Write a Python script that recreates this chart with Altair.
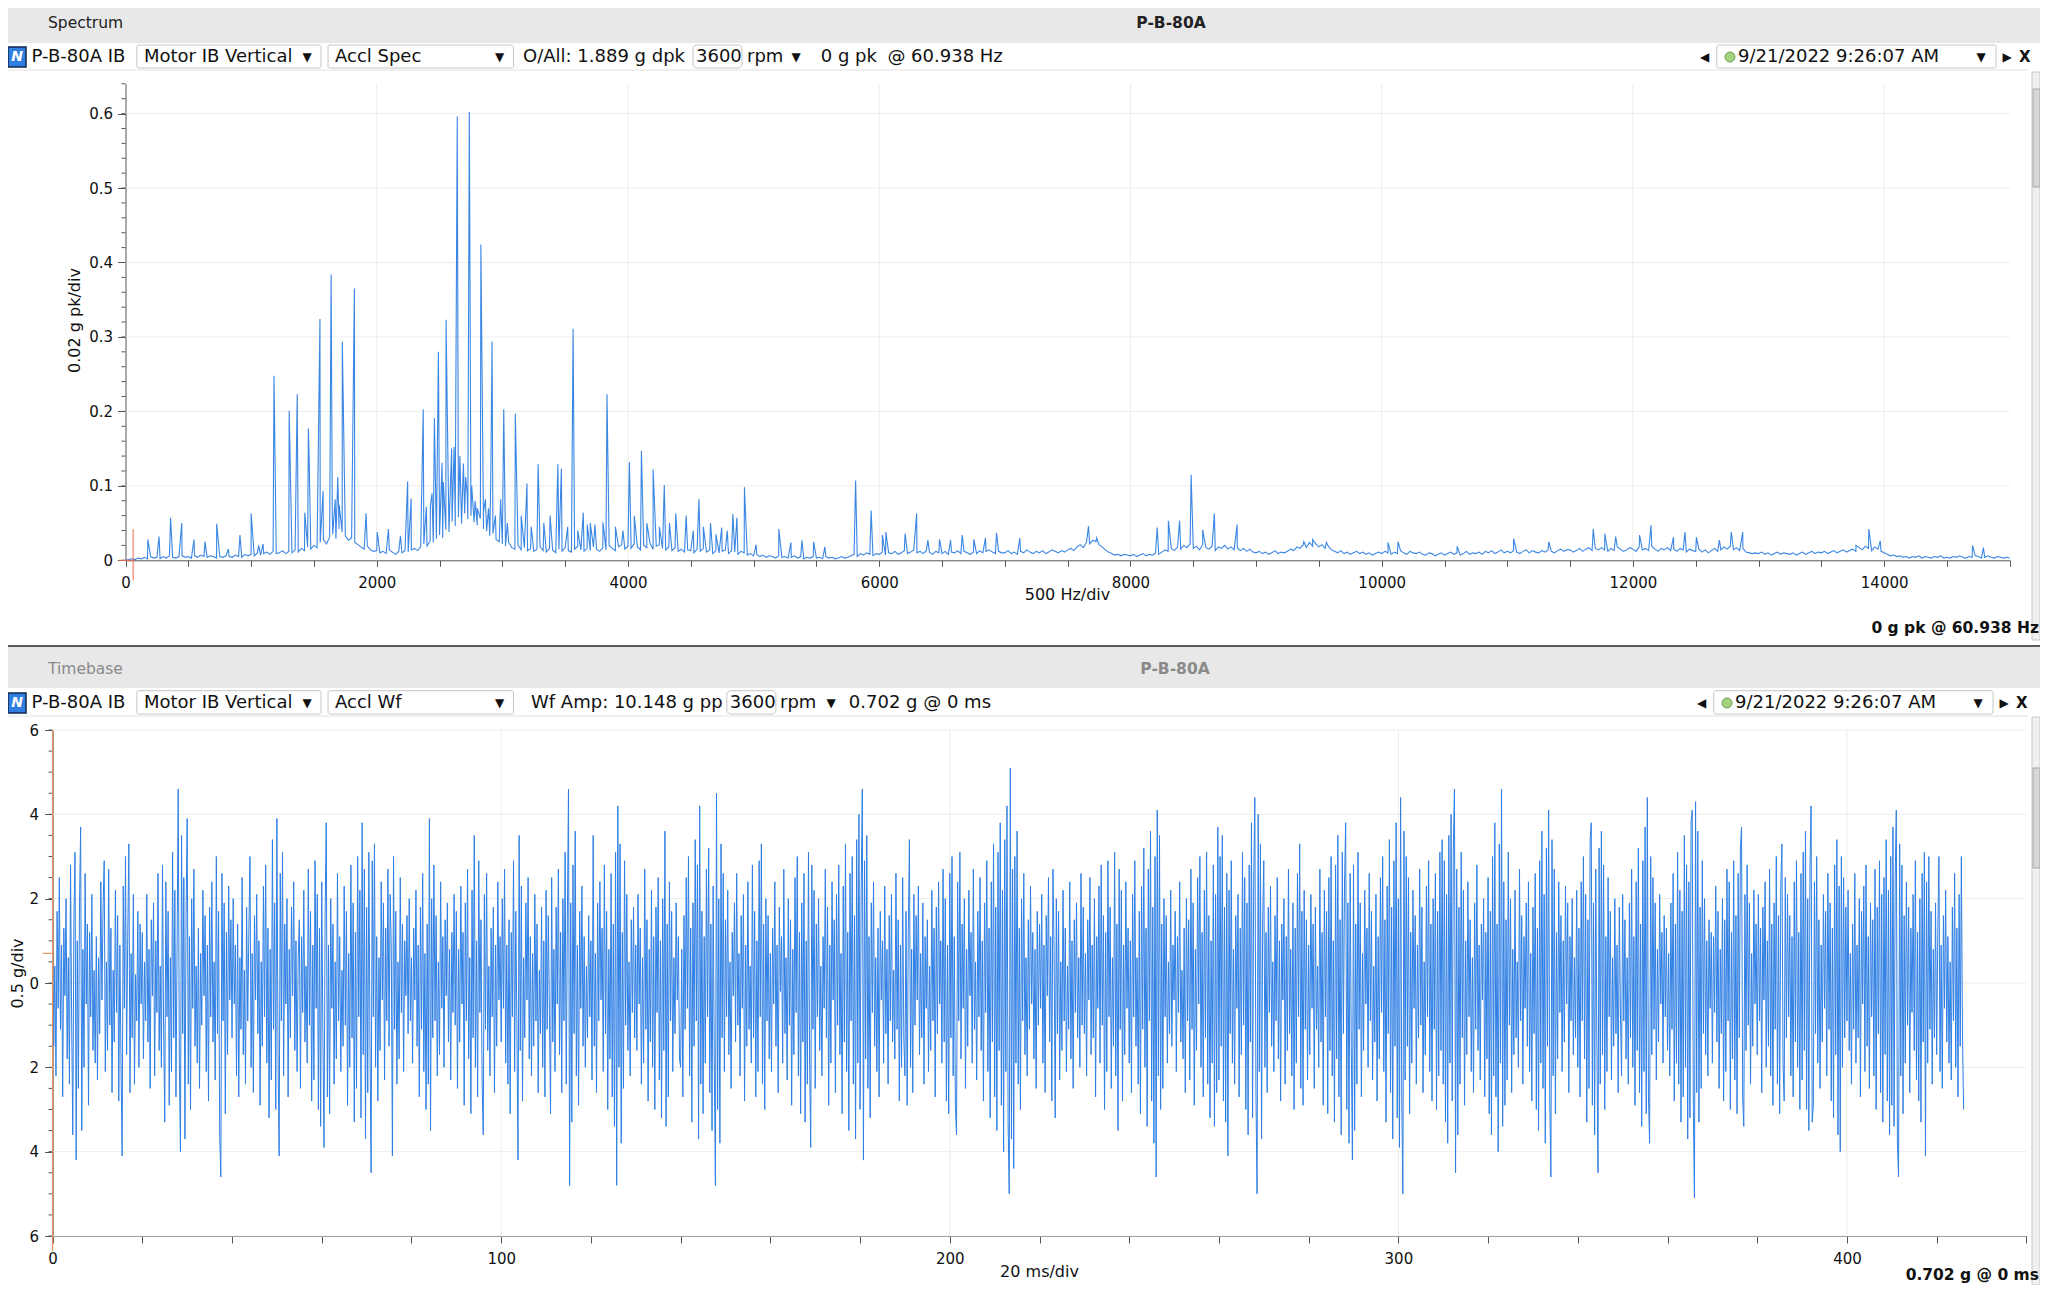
import altair as alt
import pandas as pd

W, H = 2032, 1277
FONT = "DejaVu Sans"
BLUE = "#3a86e4"
AXC = "#555555"
GRID = "#ececec"
TXT = "#111111"

# ---------------- spectrum: noise floor (thousandths of g, 25 Hz bins) ----------------
floor_0000 = [0,1,2,1,3,2,4,2,5,3, 4,2,5,3,6,4,3,5,6,4, 5,3,6,4,7,5,4,6,5,3, 5,4,6,5,4,7,5,4,8,6]
floor_1000 = [8,6,10,7,9,11,8,12,9,10, 13,9,12,10,14,11,16,13,18,15, 20,17,24,28,22,31,35,29,42,38, 33,27,30,24,21,18,15,19,14,12]
floor_2000 = [13,10,12,9,14,11,8,12,10,13, 11,14,16,13,18,22,19,26,24,29, 34,30,41,38,52,46,58,49,63,55, 60,51,47,56,42,39,33,36,28,25]
floor_3000 = [22,19,24,17,15,20,14,17,13,16, 12,15,18,13,11,16,14,10,15,12, 17,13,11,15,19,14,12,16,13,18, 15,12,17,14,20,16,13,18,21,15]
floor_4000 = [19,16,22,18,14,20,17,23,15,19, 21,16,14,18,13,17,12,15,11,14, 13,10,15,12,16,11,14,9,13,10, 12,14,9,13,11,8,12,10,7,9]
floor_5000 = [6,8,5,7,4,6,5,3,6,4, 5,3,4,6,3,5,2,4,3,5, 3,4,2,5,3,4,2,3,5,3, 4,6,8,5,9,7,10,8,6,9]
floor_6000 = [8,11,7,10,9,12,8,10,13,9, 11,14,10,12,9,13,11,8,12,10, 9,12,8,11,10,13,9,12,10,8, 11,9,13,10,12,14,11,9,12,10]
floor_7000 = [10,13,9,11,8,12,10,14,11,9, 12,10,13,9,11,14,12,10,13,11, 14,16,13,18,21,17,24,22,27,25, 21,18,14,11,9,7,8,6,8,7]
floor_8000 = [6,8,5,7,9,6,8,7,10,8, 11,14,12,16,13,18,15,20,17,22, 16,19,14,21,17,15,19,13,18,16, 20,15,18,14,17,13,16,12,15,11]
floor_9000 = [10,12,9,11,8,10,13,9,11,10, 12,15,13,18,16,21,17,24,19,22, 18,21,16,19,14,12,10,13,9,11, 8,10,12,9,11,8,10,7,9,11]
floor_10000 = [9,12,10,8,11,9,13,10,8,12, 10,9,11,8,7,10,9,6,8,10, 7,9,11,8,10,7,9,12,8,10, 9,11,8,12,10,13,9,11,14,10]
floor_11000 = [12,10,13,11,9,12,14,10,13,11, 10,13,11,14,12,10,13,15,12,14, 14,11,13,16,12,15,17,13,16,14, 17,14,12,16,13,18,15,12,14,17]
floor_12000 = [15,12,18,14,16,13,19,15,12,16, 14,17,13,15,12,16,14,11,15,13, 12,15,11,14,10,13,16,12,14,18, 15,19,14,17,13,16,11,10,9,10]
floor_13000 = [9,11,8,10,7,9,11,8,10,9, 8,10,7,9,11,8,10,12,9,11, 10,12,9,11,13,10,12,14,11,13, 15,12,17,14,19,16,13,18,15,12]
floor_14000 = [10,8,6,7,5,6,4,5,3,5, 4,6,3,5,4,3,5,4,6,3, 4,3,5,4,6,4,3,5,4,6, 5,3,4,6,4,3,5,4,3,4, 3]

# ---------------- spectrum: discrete peaks (Hz, g pk) ----------------
spec_peaks = [
    (178, 0.028), (267, 0.032), (359, 0.057), (448, 0.050), (545, 0.028), (633, 0.025),
    (726, 0.049), (819, 0.015), (911, 0.034), (1000, 0.063), (1060, 0.020), (1095, 0.022),
    (1182, 0.248), (1303, 0.201), (1367, 0.223), (1427, 0.064), (1456, 0.177), (1462, 0.135),
    (1548, 0.324), (1573, 0.093), (1637, 0.384), (1646, 0.060), (1669, 0.082), (1690, 0.112),
    (1700, 0.075), (1726, 0.294), (1822, 0.365), (1915, 0.063), (2004, 0.038), (2093, 0.042),
    (2189, 0.033), (2246, 0.106), (2274, 0.083), (2370, 0.203), (2395, 0.072), (2427, 0.073),
    (2440, 0.090), (2459, 0.191), (2491, 0.280), (2520, 0.131), (2530, 0.105), (2552, 0.323),
    (2568, 0.120), (2596, 0.150), (2616, 0.152), (2626, 0.110), (2641, 0.596), (2662, 0.140),
    (2690, 0.130), (2708, 0.112), (2720, 0.090), (2737, 0.602), (2756, 0.100), (2783, 0.080),
    (2800, 0.070), (2829, 0.424), (2850, 0.065), (2865, 0.082), (2890, 0.070), (2908, 0.113),
    (2918, 0.294), (2945, 0.060), (2986, 0.082), (3011, 0.203), (3040, 0.050), (3103, 0.197),
    (3150, 0.060), (3196, 0.103), (3230, 0.045), (3285, 0.129), (3330, 0.050), (3380, 0.060),
    (3442, 0.129), (3470, 0.123), (3520, 0.045), (3563, 0.311), (3600, 0.040), (3644, 0.064),
    (3676, 0.048), (3700, 0.050), (3737, 0.048), (3801, 0.051), (3833, 0.223), (3900, 0.045),
    (3960, 0.040), (4011, 0.132), (4050, 0.060), (4107, 0.147), (4150, 0.050), (4200, 0.122),
    (4250, 0.045), (4289, 0.101), (4330, 0.050), (4380, 0.063), (4463, 0.060), (4520, 0.040),
    (4565, 0.082), (4600, 0.045), (4657, 0.050), (4700, 0.035), (4746, 0.044), (4790, 0.040),
    (4835, 0.062), (4867, 0.057), (4927, 0.098), (5020, 0.021), (5201, 0.042), (5297, 0.024),
    (5385, 0.027), (5478, 0.025), (5567, 0.018), (5812, 0.107), (5936, 0.067), (6025, 0.034),
    (6053, 0.038), (6206, 0.036), (6298, 0.063), (6387, 0.027), (6480, 0.028), (6568, 0.027),
    (6661, 0.034), (6753, 0.028), (6846, 0.030), (6934, 0.037), (7119, 0.030), (7666, 0.046),
    (7730, 0.030), (8213, 0.044), (8302, 0.053), (8391, 0.053), (8483, 0.115), (8575, 0.041),
    (8668, 0.063), (8849, 0.048), (9380, 0.025), (9450, 0.028), (9560, 0.024), (10050, 0.024),
    (10130, 0.025), (10600, 0.019), (11050, 0.029), (11330, 0.025), (11684, 0.042), (11776, 0.036),
    (11863, 0.032), (12053, 0.034), (12144, 0.047), (12323, 0.031), (12414, 0.038), (12505, 0.031),
    (12688, 0.027), (12783, 0.038), (12874, 0.038), (13775, 0.020), (13878, 0.042), (13969, 0.026),
    (14703, 0.020), (14790, 0.017),
]

# ---------------- waveform (tenths of g, 0.25 ms samples) ----------------
wf_000_050 = [
    7,-15,4,-22,17,-6,25,-11,9,-27,13,-3,20,-18,6,-24,28,-9,-36,15,31,-42,10,-25,19,37,-35,8,-20,26,-5,14,-29,12,-8,21,-16,3,-19,11,
    -23,6,-12,24,-4,18,29,-21,5,-16,27,-10,13,-26,3,-14,22,-7,16,-28,9,-19,-41,23,-6,30,-17,11,33,-26,7,-13,21,-24,2,-9,17,-20,14,-5,
    12,-18,5,-9,21,-14,8,-25,15,-3,19,-22,10,-7,26,-16,4,-20,28,-11,-33,24,-8,17,-29,6,-21,31,-13,22,-27,9,46,-18,-40,35,-12,25,-37,16,
    39,-24,11,-30,20,-6,27,-15,4,-19,13,-25,7,-10,22,-3,16,-21,9,-28,18,-8,24,-14,5,-23,30,-12,17,-36,-46,26,-9,19,-31,12,-17,23,-4,15,
    -13,20,-5,9,-22,14,-27,6,-11,25,-17,3,-24,18,-9,12,30,-20,7,-26,16,-4,21,-12,10,-29,5,-15,23,-8,28,-19,13,-32,8,-23,34,-11,19,-30]
wf_050_100 = [
    39,-17,-41,26,-9,31,-22,14,-5,20,-27,8,-13,18,-3,24,-16,10,-21,6,15,-25,11,-7,22,-14,4,-19,27,-10,17,-28,9,-23,29,-6,21,-30,13,-34,
    24,-12,-39,16,38,-27,9,-31,20,-6,14,-24,5,-18,26,-9,11,-21,3,-15,23,-10,17,-29,7,-20,28,-13,19,-33,12,-25,30,-8,22,-32,38,-17,27,-37,
    18,-26,31,-14,-45,29,-8,33,-20,11,-28,6,-16,24,-4,19,-23,13,-9,27,-15,21,8,-41,30,-11,17,-24,5,-18,25,-7,14,-21,10,-3,16,-12,20,-9,
    6,-19,13,-4,22,-15,9,-27,18,-11,26,-21,7,-30,14,-24,39,-35,20,-13,28,-9,16,-22,5,-17,24,-6,11,-20,15,-3,19,-14,8,-23,12,-7,21,-10,
    17,-25,8,-14,23,-5,12,-29,19,-9,27,-18,6,-31,22,-13,35,-20,10,-27,29,-7,15,-24,-36,21,-11,26,-16,4,-22,13,-8,18,-26,9,-15,24,-4,11]
wf_100_150 = [
    -14,20,-6,27,-19,9,-24,15,-31,12,-8,29,-21,17,-10,-42,35,-16,23,-28,6,-13,19,-4,25,-18,11,-22,7,-15,21,-9,14,-26,3,-12,18,-20,10,-27,
    22,-11,16,-7,-31,25,-14,8,-21,18,-5,27,-17,12,-26,20,-9,31,-24,15,46,-48,19,-33,28,-12,36,-22,9,-29,17,-6,23,-15,11,-20,4,-13,16,-8,
    10,-23,35,-15,7,-26,19,-9,24,-4,13,-21,28,-12,17,-30,8,-18,26,-27,14,-34,31,-48,42,-20,33,-38,12,-25,29,-10,21,-16,5,-22,15,-7,18,-13,
    9,-16,21,-5,13,-24,6,-19,27,-11,15,-28,8,-14,22,-20,11,-30,18,-7,25,-23,10,-32,20,-16,36,-34,14,-27,24,-9,17,-21,6,-12,19,-4,11,-18,
    -20,8,-27,16,-11,25,-6,30,-22,13,-33,19,-15,34,-9,28,-37,42,-24,17,-31,11,-19,27,-8,32,-26,14,-35,23,-18,-48,45,-30,20,-38,33,-13,26,-21]
wf_150_200 = [
    15,-8,22,-17,5,-25,12,-3,19,-14,26,-10,7,-22,16,-6,21,-28,9,-15,24,-11,4,-19,28,-13,17,-27,10,-21,29,-8,33,-24,14,-30,20,-9,16,-18,
    7,-21,13,-5,24,-15,9,-26,18,-2,11,-19,27,-12,6,-23,20,-10,15,-29,8,-17,25,-7,30,-22,12,-31,19,-14,26,-33,10,-24,31,-18,-39,28,-11,22,
    -25,14,-8,20,-16,4,-22,11,-6,27,-13,18,-29,9,-19,24,-4,15,-26,21,-10,28,-17,7,-31,23,-14,33,-21,12,-35,26,-9,30,-24,16,-37,34,-19,40,
    -30,22,46,-42,29,-18,35,-25,11,-32,19,-7,24,-15,6,-21,13,-27,17,-4,10,-19,23,-12,8,-24,16,-9,21,-14,3,-18,26,-11,15,-28,9,-20,25,-13,
    -22,17,-29,12,34,-20,8,-26,21,-10,16,-4,23,-17,7,-13,19,-24,11,-6,15,-21,4,-16,22,-9,13,-27,18,-12,24,-5,10,-19,27,-14,20,-28,9,-31]
wf_200_250 = [
    26,-13,30,-22,11,-29,-36,24,-9,31,-18,14,-6,20,-25,8,-15,22,-3,12,-19,27,-11,5,-23,17,-8,25,-16,10,-28,19,-7,29,-21,13,-32,24,-14,33,
    -27,18,-35,31,-16,38,-29,22,-40,34,-21,42,-33,-50,51,-37,27,-44,30,-19,36,-24,13,-30,20,-9,26,-17,6,-22,15,-11,23,-5,12,-18,8,-25,17,-10,
    14,-6,21,-19,9,-26,16,-3,25,-14,11,-28,27,8,-32,20,-12,17,-23,5,-16,22,-9,13,-21,4,-11,24,-18,10,-25,15,-7,19,-13,6,-20,26,-10,18,
    -12,7,-22,15,-4,25,-17,9,-13,20,-27,11,-6,23,-19,28,-10,16,-30,12,-21,29,-8,18,-25,6,-15,31,-22,14,-35,27,-11,22,-28,9,-17,24,-6,13,
    -19,10,-26,21,-8,29,-15,6,-24,17,-31,23,-11,32,-20,13,-34,27,-9,36,-28,18,-38,30,-46,41,-22,35,-30,14,-25,20,-8,16,-19,5,-12,22,-15,9]
wf_250_300 = [
    -4,17,-21,11,-7,24,-14,3,-18,13,-26,20,-9,15,-23,27,-11,19,-29,8,-16,25,-5,30,-20,12,-27,22,-13,31,-24,16,-32,10,-19,28,-34,21,-26,37,
    -23,30,-15,35,-28,18,-33,26,-41,22,-12,29,-19,8,-24,16,-6,21,-27,13,-17,31,-10,25,-30,19,-36,28,-14,38,-32,24,44,-26,-50,40,-21,33,-37,15,
    29,-20,12,-26,18,-7,23,-15,5,-21,16,-9,25,-18,10,-28,14,-4,20,-24,11,-16,27,-12,8,-22,19,-30,13,-19,26,-8,33,-25,17,-29,22,-11,15,-23,
    9,-17,21,-6,14,-25,18,-11,4,-20,27,-14,12,-29,22,-8,17,-31,25,-16,30,-22,10,-33,28,-18,35,-27,15,-36,31,-12,24,38,-30,19,-38,26,-15,-42,
    28,-35,14,-24,31,-11,19,-27,7,-16,22,-5,13,-20,26,-9,17,-23,4,-14,21,-28,11,-18,25,-7,30,-21,15,-33,23,-12,34,-26,18,-37,29,-15,38,-32]
wf_300_350 = [
    20,-39,44,-27,-50,36,-23,30,-15,25,-31,12,-19,22,-6,16,-24,9,-13,27,-10,18,-26,5,-17,23,-8,29,-21,14,-28,20,-11,26,-30,17,-22,31,-16,34,
    -24,29,-33,21,-38,35,-19,40,-28,32,46,-45,27,-36,18,-24,31,-13,22,-29,10,-17,24,-8,15,-21,6,-26,19,-11,28,-16,9,-23,14,-4,20,-27,12,-18,
    25,-31,17,-36,30,-22,38,-27,14,-40,33,-19,46,-34,24,-29,15,-23,31,-10,20,-26,8,-17,22,-13,5,-20,27,-9,16,-24,11,-6,19,-15,24,-21,7,-28,
    18,-12,26,-30,13,-35,29,-19,36,-25,21,-38,32,-15,41,-28,-46,34,-22,27,-31,12,-18,24,-7,16,-21,10,-14,23,-5,19,-26,11,-9,20,-17,6,-13,22,
    -20,13,-27,24,-9,30,-18,21,-33,15,-25,34,38,-29,19,-36,27,-14,-45,32,-24,36,-17,28,-30,11,-21,25,-8,17,-23,6,-15,20,-12,9,-26,18,-7,-22]
wf_350_400 = [
    21,-9,15,-18,6,-24,19,-13,27,-20,11,-29,24,-16,32,-26,14,-34,29,-21,37,-31,44,-27,-38,30,-17,25,-11,19,-23,8,-14,21,-5,12,-19,16,-8,13,
    -16,7,-22,19,-11,26,-28,14,-19,31,-24,22,-33,17,-27,35,-20,28,-37,24,-32,38,41,-29,-51,43,-26,36,-33,18,-25,29,-12,20,-17,10,-22,15,-6,12,
    -19,11,-7,23,-14,17,-25,8,-12,20,-28,15,-21,27,-9,24,-30,12,-18,29,-23,16,-31,26,-13,32,37,-27,-34,21,-16,28,-10,19,-24,7,-15,22,-5,14,
    -17,21,-9,13,-26,18,-4,24,-20,10,-15,27,-22,14,-29,19,-11,30,-24,16,-31,23,33,-19,-28,25,-13,21,-8,16,-22,11,-27,24,-14,29,-20,12,-30,26,
    -23,31,-16,36,-30,20,-35,27,42,-33,-29,24,-12,30,-19,15,-25,9,-14,21,-6,17,-22,26,-11,19,-28,13,-32,28,-17,34,-36,23,-40,30,-20,25,-13,18]
wf_400_426 = [
    -9,22,-16,7,-24,14,-11,26,-19,9,-13,20,-27,17,-5,23,-21,28,-15,11,-25,19,-8,15,-22,27,-30,18,-12,29,-26,21,-33,25,-17,34,-28,22,-36,30,
    -29,37,-34,25,41,-38,-46,33,-22,28,-31,16,-19,24,-10,18,-26,13,-7,21,-16,29,-23,12,-28,20,-33,26,-14,31,-41,24,-19,30,-11,17,-24,8,-13,19,
    -17,12,30,-21,9,-25,16,-6,22,-14,11,-19,5,-23,18,-9,26,-20,13,-27,21,-15,30,-12,-30]

SPEC_BIN_HZ = 25
WF_STEP_MS = 0.25

# ---------------- axis tick lists ----------------
spec_freq_ticks = list(range(0, 15001, 500))
spec_freq_grid = [2000, 4000, 6000, 8000, 10000, 12000, 14000]
spec_amp_ticks = [0, 0.1, 0.2, 0.3, 0.4, 0.5, 0.6]
spec_amp_minor = [round(i * 0.02, 2) for i in range(33)]
wf_ms_ticks = list(range(0, 441, 20))
wf_ms_grid = [100, 200, 300, 400]
wf_g_ticks = [-6, -4, -2, 0, 2, 4, 6]
wf_g_minor = [i * 0.5 for i in range(-12, 13)]

# ---------------- tables ----------------
floor = (floor_0000 + floor_1000 + floor_2000 + floor_3000 + floor_4000 + floor_5000 +
         floor_6000 + floor_7000 + floor_8000 + floor_9000 + floor_10000 + floor_11000 +
         floor_12000 + floor_13000 + floor_14000)
spec_rows = [(i * SPEC_BIN_HZ, v / 1000.0) for i, v in enumerate(floor)] + spec_peaks
spec_df = pd.DataFrame(spec_rows, columns=["freq", "amp"]).sort_values("freq", kind="stable")

wf = (wf_000_050 + wf_050_100 + wf_100_150 + wf_150_200 + wf_200_250 +
      wf_250_300 + wf_300_350 + wf_350_400 + wf_400_426)
wf_df = pd.DataFrame({"ms": [i * WF_STEP_MS for i in range(len(wf))], "g": [v / 10.0 for v in wf]})

one = pd.DataFrame({"k": [0]})

# ---------------- panel geometry ----------------
SX_R = [117.5, 2001.8]
SY_R = [552.3, 75.8]
WX_R = [44.6, 2018.4]
WY_R = [1228.0, 722.0]

SX = alt.Scale(domain=[0, 15000], range=SX_R, nice=False, zero=False)
SY = alt.Scale(domain=[0, 0.64], range=SY_R, nice=False, zero=False)
WXs = alt.Scale(domain=[0, 440], range=WX_R, nice=False, zero=False)
WYs = alt.Scale(domain=[-6, 6], range=WY_R, nice=False, zero=False)

common_ax = dict(grid=False, domainColor=AXC, tickColor=AXC, labelColor=TXT, labelFontSize=15,
                 labelFlush=False, labelOverlap=False, titleColor=TXT, titleFontSize=16,
                 titleFontWeight="normal", labelFont=FONT, titleFont=FONT)

ax_sx = alt.Axis(orient="bottom", offset=SY_R[0] - H, values=spec_freq_ticks,
                 labelExpr="datum.value % 2000 === 0 ? format(datum.value, 'd') : ''",
                 tickSize=6, labelPadding=9, title="500 Hz/div", titleX=1059, titleY=34,
                 titleAlign="center", titleBaseline="middle", **common_ax)
ax_sy = alt.Axis(orient="left", offset=-SX_R[0], values=spec_amp_ticks,
                 labelExpr="datum.value === 0 ? '0' : format(datum.value, '.1f')",
                 tickSize=8, labelPadding=5, title="0.02 g pk/div", titleX=-51, titleY=312,
                 titleAngle=270, titleAlign="center", titleBaseline="middle", **common_ax)
ax_wx = alt.Axis(orient="bottom", offset=WY_R[0] - H, values=wf_ms_ticks,
                 labelExpr="datum.value % 100 === 0 ? format(datum.value, 'd') : ''",
                 tickSize=7, labelPadding=8, title="20 ms/div", titleX=1031, titleY=35,
                 titleAlign="center", titleBaseline="middle", **common_ax)
ax_wy = alt.Axis(orient="left", offset=-WX_R[0], values=wf_g_ticks,
                 labelExpr="format(abs(datum.value), 'd')",
                 tickSize=8, labelPadding=6, title="0.5 g/div", titleX=-35.6, titleY=965,
                 titleAngle=270, titleAlign="center", titleBaseline="middle", **common_ax)

def SXf(f): return alt.X(f, type="quantitative", scale=SX, axis=ax_sx)
def SYf(f): return alt.Y(f, type="quantitative", scale=SY, axis=ax_sy)
def WXf(f): return alt.X(f, type="quantitative", scale=WXs, axis=ax_wx)
def WYf(f): return alt.Y(f, type="quantitative", scale=WYs, axis=ax_wy)

# ---------------- spectrum panel ----------------
spec_vgrid = alt.Chart(pd.DataFrame({"f": spec_freq_grid})).mark_rule(color=GRID, strokeWidth=1).encode(
    x=SXf("f"), y=alt.YDatum(0, scale=SY, axis=ax_sy), y2=alt.Y2Datum(0.64))
spec_hgrid = alt.Chart(pd.DataFrame({"a": spec_amp_ticks[1:]})).mark_rule(color=GRID, strokeWidth=1).encode(
    y=SYf("a"), x=alt.XDatum(0, scale=SX, axis=ax_sx), x2=alt.X2Datum(15000))
spec_minor = alt.Chart(pd.DataFrame({"a": spec_amp_minor})).mark_rule(color=AXC, strokeWidth=1).encode(
    y=SYf("a"), x=alt.value(SX_R[0] - 4), x2=alt.value(SX_R[0]))
spec_line = alt.Chart(spec_df).mark_line(color=BLUE, strokeWidth=1.1).encode(x=SXf("freq"), y=SYf("amp"))
spec_cursor = alt.Chart(one).mark_rule(color="#ee6a50", strokeWidth=1).encode(
    x=alt.XDatum(60.938, scale=SX, axis=ax_sx), y=alt.YDatum(0.042, scale=SY, axis=ax_sy), y2=alt.Y2Datum(-0.027))
spec_cursor_h = alt.Chart(one).mark_rule(color="#ee6a50", strokeWidth=1).encode(
    x=alt.XDatum(-50, scale=SX, axis=ax_sx), x2=alt.X2Datum(60.938), y=alt.YDatum(0, scale=SY, axis=ax_sy))
spec_layer = alt.layer(spec_vgrid, spec_hgrid, spec_minor, spec_line, spec_cursor, spec_cursor_h)

# ---------------- waveform panel ----------------
wf_vgrid = alt.Chart(pd.DataFrame({"t": wf_ms_grid})).mark_rule(color=GRID, strokeWidth=1).encode(
    x=WXf("t"), y=alt.YDatum(-6, scale=WYs, axis=ax_wy), y2=alt.Y2Datum(6))
wf_hgrid = alt.Chart(pd.DataFrame({"v": wf_g_ticks})).mark_rule(color=GRID, strokeWidth=1).encode(
    y=WYf("v"), x=alt.XDatum(0, scale=WXs, axis=ax_wx), x2=alt.X2Datum(440))
wf_minor = alt.Chart(pd.DataFrame({"v": wf_g_minor})).mark_rule(color=AXC, strokeWidth=1).encode(
    y=WYf("v"), x=alt.value(WX_R[0] - 4), x2=alt.value(WX_R[0]))
wf_line = alt.Chart(wf_df).mark_line(color="#2f7fe4", strokeWidth=1).encode(x=WXf("ms"), y=WYf("g"))
wf_cursor = alt.Chart(one).mark_rule(color="#e8935f", strokeWidth=1.2).encode(
    x=alt.XDatum(0, scale=WXs, axis=ax_wx), y=alt.YDatum(6, scale=WYs, axis=ax_wy), y2=alt.Y2Datum(-6.35))
wf_cursor_h = alt.Chart(one).mark_rule(color="#e8935f", strokeWidth=1.2).encode(
    x=alt.XDatum(-2.2, scale=WXs, axis=ax_wx), x2=alt.X2Datum(0), y=alt.YDatum(0.702, scale=WYs, axis=ax_wy))
wf_layer = alt.layer(wf_vgrid, wf_hgrid, wf_minor, wf_line, wf_cursor, wf_cursor_h)

# ---------------- UI chrome ----------------
def txt(s, x, y, size=18, color=TXT, weight="normal", align="left", style="normal"):
    return alt.Chart(one).mark_text(text=s, fontSize=size, color=color, fontWeight=weight, align=align,
                                    baseline="middle", font=FONT, fontStyle=style).encode(
        x=alt.value(x), y=alt.value(y))

def box(x0, x1, y0, y1, fill, stroke=None, sw=1, r=0):
    kw = dict(fill=fill, cornerRadius=r)
    if stroke:
        kw.update(stroke=stroke, strokeWidth=sw)
    return alt.Chart(one).mark_rect(**kw).encode(
        x=alt.value(x0), x2=alt.value(x1), y=alt.value(y0), y2=alt.value(y1))

def hline(x0, x1, y, color, w=1):
    return alt.Chart(one).mark_rule(color=color, strokeWidth=w).encode(
        x=alt.value(x0), x2=alt.value(x1), y=alt.value(y))

def dot(x, y):
    return alt.Chart(one).mark_circle(size=100, color="#a3d27c", stroke="#6f9e52", strokeWidth=1,
                                      opacity=1).encode(x=alt.value(x), y=alt.value(y))

def toolbar(yc, yb0, yb1, kind, middle, box3, rest):
    items = [
        box(0, 18, yc - 10, yc + 10, "#2f7fe0", "#10264f", 1.5),
        txt("N", 9, yc, 14, "white", "bold", "center", "italic"),
        txt("P-B-80A IB", 23.6, yc),
        box(128.8, 313, yb0, yb1, "white", "#c6c6c6", 1, 2),
        txt("Motor IB Vertical", 136, yc),
        txt("\u25bc", 299, yc, 12, align="center"),
        box(320, 505.5, yb0, yb1, "white", "#c6c6c6", 1, 2),
        txt(kind, 327, yc),
        txt("\u25bc", 491.5, yc, 12, align="center"),
        txt(middle[0], middle[1], yc),
        box(box3[0], box3[1], yb0, yb1, "white", "#c6c6c6", 1, 4),
        txt("3600", box3[0] + 3, yc),
    ]
    for s, x, sz in rest:
        items.append(txt(s, x, yc, sz, align="center" if s == "\u25bc" else "left"))
    return items

def datebox(yc, yb0, yb1, dx):
    return [
        txt("\u25c0", 1696.6 + dx, yc, 12, align="center"),
        box(1708.7 + dx, 1988 + dx, yb0, yb1, "white", "#c6c6c6", 1, 2),
        dot(1722 + dx, yc),
        txt("9/21/2022 9:26:07 AM", 1730 + dx, yc),
        txt("\u25bc", 1973 + dx, yc, 12, align="center"),
        txt("\u25b6", 1999 + dx, yc, 12, align="center"),
        txt("X", 2011 + dx, yc, 15, weight="bold"),
    ]

ui_back = [
    box(0, W, 0, 35, "#e8e8e8"),
    box(0, W, 639, 680, "#e8e8e8"),
    hline(0, 2020, 62, "#e2e2e2"),
    hline(0, 2020, 708, "#e2e2e2"),
    hline(0, W, 638, "#5a5a5a", 2),
    box(2024, W, 64, 632, "#f0f0f0", "#c8c8c8"),
    box(2025, W, 81, 179, "#d6d6d6", "#a8a8a8"),
    box(2024, W, 709, H, "#f0f0f0", "#c8c8c8"),
    box(2025, W, 760, 860, "#d6d6d6", "#a8a8a8"),
]

ui_front = (
    [txt("Spectrum", 40, 15, 15.5, "#222222"),
     txt("P-B-80A", 1163, 15, 15.5, "#222222", "bold", "center")]
    + toolbar(49, 37, 60, "Accl Spec", ("O/All: 1.889 g dpk", 515), (685, 734),
              [("rpm", 739, 18), ("\u25bc", 788, 12), ("0 g pk", 812.8, 18), ("@ 60.938 Hz", 879.4, 18)])
    + datebox(49, 37, 60, 0)
    + [txt("0 g pk @ 60.938 Hz", 2031, 620, 15.5, weight="bold", align="right"),
       txt("Timebase", 40, 661, 15.5, "#8a8a8a"),
       txt("P-B-80A", 1167, 661, 15.5, "#8a8a8a", "bold", "center")]
    + toolbar(695, 682.7, 706, "Accl Wf", ("Wf Amp: 10.148 g pp", 523), (718.8, 767.9),
              [("rpm", 772, 18), ("\u25bc", 823, 12), ("0.702 g @ 0 ms", 840.8, 18)])
    + datebox(695, 682.7, 706, -3)
    + [txt("0.702 g @ 0 ms", 2031, 1267, 15.5, weight="bold", align="right")]
)

chart = alt.layer(*ui_back, spec_layer, wf_layer, *ui_front).resolve_scale(
    x="independent", y="independent").resolve_axis(x="independent", y="independent").properties(
    width=W, height=H, autosize=alt.AutoSizeParams(type="none"), padding=0, background="white"
).configure_view(stroke=None).configure_axis(labelFont=FONT, titleFont=FONT)

chart.save("out.html", embed_options={"renderer": "svg", "actions": False})
